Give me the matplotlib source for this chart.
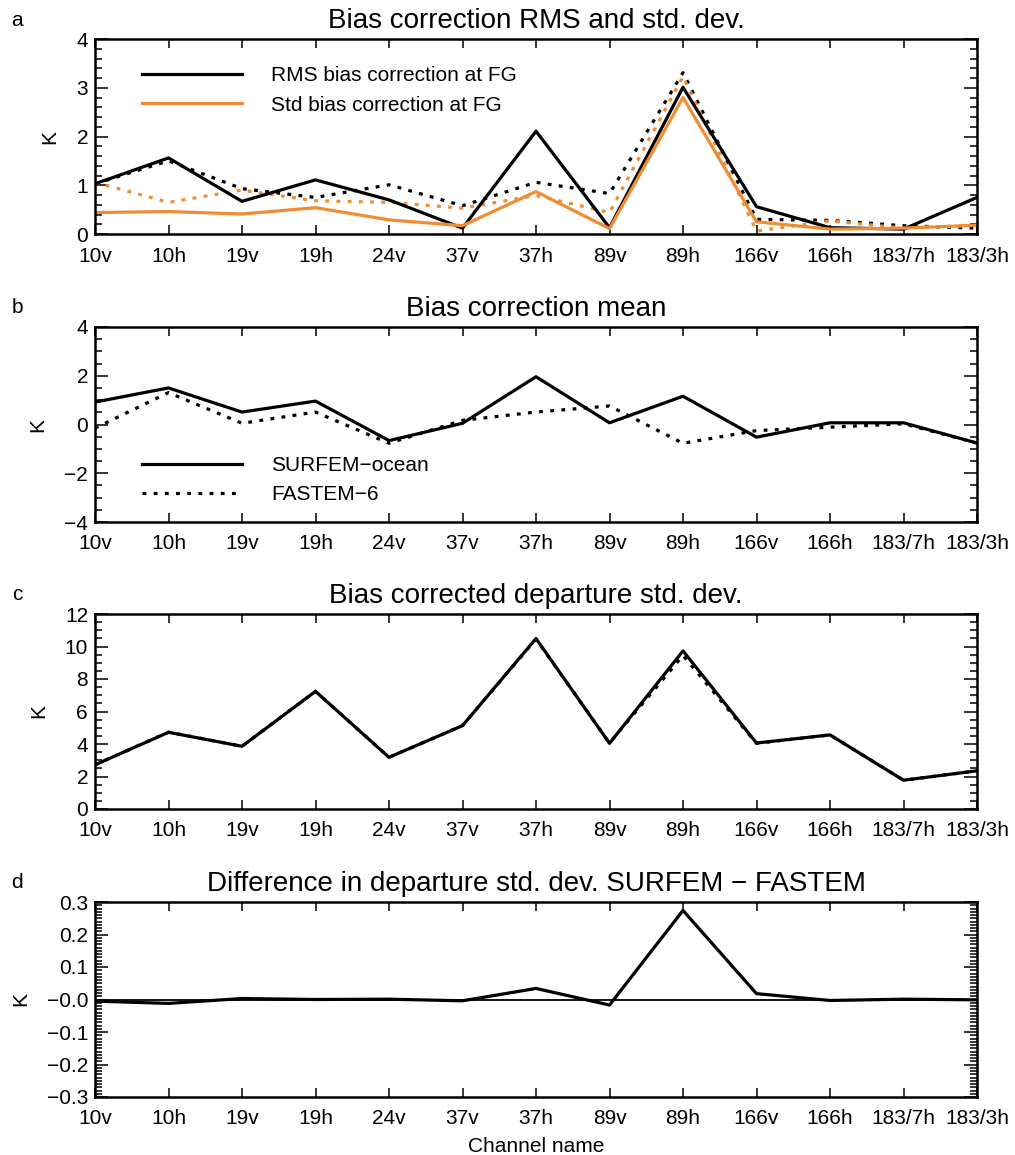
import numpy as np
import matplotlib
matplotlib.use('Agg')
import matplotlib.pyplot as plt
from matplotlib.ticker import MultipleLocator, FixedLocator, FixedFormatter

plt.rcParams['font.family'] = ['Liberation Sans', 'DejaVu Sans']
plt.rcParams['axes.unicode_minus'] = True

channels = ['10v', '10h', '19v', '19h', '24v', '37v', '37h', '89v', '89h',
            '166v', '166h', '183/7h', '183/3h']

# a) RMS / std of bias correction at first guess
rms_surfem = [1.03, 1.56, 0.67, 1.11, 0.70, 0.12, 2.11, 0.13, 3.01, 0.56, 0.13, 0.10, 0.75]
rms_fastem = [1.03, 1.50, 0.93, 0.75, 1.01, 0.58, 1.06, 0.83, 3.31, 0.30, 0.28, 0.17, 0.12]
std_surfem = [0.44, 0.46, 0.41, 0.54, 0.29, 0.17, 0.87, 0.11, 2.80, 0.25, 0.10, 0.12, 0.18]
std_fastem = [1.06, 0.65, 0.90, 0.68, 0.65, 0.53, 0.79, 0.44, 3.23, 0.06, 0.27, 0.12, 0.18]

# b) mean bias correction
mean_surfem = [0.92, 1.50, 0.51, 0.96, -0.66, 0.05, 1.96, 0.07, 1.16, -0.52, 0.07, 0.07, -0.76]
mean_fastem = [-0.15, 1.31, 0.05, 0.51, -0.77, 0.17, 0.51, 0.76, -0.77, -0.25, -0.11, 0.03, -0.76]

# c) bias corrected departure std. dev.
sd_surfem = [2.72, 4.72, 3.86, 7.24, 3.18, 5.13, 10.49, 4.04, 9.73, 4.06, 4.56, 1.77, 2.35]
sd_fastem = [2.72, 4.73, 3.86, 7.24, 3.18, 5.13, 10.46, 4.06, 9.45, 4.04, 4.56, 1.77, 2.35]

# d) SURFEM - FASTEM difference
sd_diff = [-0.005, -0.012, 0.003, 0.0, 0.001, -0.004, 0.034, -0.017, 0.274, 0.018, -0.003, 0.001, -0.001]

d_ticks = [-0.3, -0.2, -0.1, 0.0, 0.1, 0.2, 0.3]
d_ticklabels = ['\u22120.3', '\u22120.2', '\u22120.1', '\u22120.0', '0.1', '0.2', '0.3']

ORANGE = '#F08C32'
LW = 2.3
DOT = (0, (1.2, 2.3))
FS = 15

W, H = 1015, 1155
fig = plt.figure(figsize=(W / 100, H / 100), dpi=100)

left, right = 95, 977
tops = [39, 327, 614, 902]
height = 195
x = np.arange(len(channels))

axes = []
for t in tops:
    ax = fig.add_axes([left / W, 1 - (t + height) / H, (right - left) / W, height / H])
    axes.append(ax)


def style(ax, letter, top, title, ylim, major, minor):
    ax.set_xlim(0, len(channels) - 1)
    ax.set_ylim(*ylim)
    ax.set_xticks(x)
    ax.set_xticklabels(channels)
    ax.yaxis.set_major_locator(MultipleLocator(major))
    ax.yaxis.set_minor_locator(MultipleLocator(minor))
    ax.tick_params(axis='both', which='both', direction='in', top=True, right=True,
                   labelsize=FS, width=1.1)
    ax.tick_params(axis='x', which='major', length=6.5, pad=9)
    ax.tick_params(axis='y', which='major', length=9.5, pad=5)
    ax.tick_params(axis='y', which='minor', length=5)
    ax.tick_params(axis='x', which='minor', length=0)
    for s in ax.spines.values():
        s.set_linewidth(1.8)
    ax.set_title(title, fontsize=20, pad=8)
    ax.set_ylabel('K', fontsize=FS, labelpad=12)
    fig.text(17 / W, 1 - (top - 19) / H, letter, fontsize=FS, ha='center', va='center')


# a
ax = axes[0]
ax.plot(x, rms_fastem, color='black', lw=LW, ls=DOT)
ax.plot(x, std_fastem, color=ORANGE, lw=LW, ls=DOT)
ax.plot(x, rms_surfem, color='black', lw=LW, label='RMS bias correction at FG')
ax.plot(x, std_surfem, color=ORANGE, lw=LW, label='Std bias correction at FG')
style(ax, 'a', tops[0], 'Bias correction RMS and std. dev.', (0, 4), 1, 0.2)
ax.legend(loc='upper left', bbox_to_anchor=(47 / 882, 0.86), frameon=False, fontsize=FS,
          borderaxespad=0, borderpad=0, handlelength=4.8, handletextpad=1.4,
          labelspacing=0.5)

# b
ax = axes[1]
ax.plot(x, mean_surfem, color='black', lw=LW, label='SURFEM\u2212ocean')
ax.plot(x, mean_fastem, color='black', lw=LW, ls=DOT, label='FASTEM\u22126')
style(ax, 'b', tops[1], 'Bias correction mean', (-4, 4), 2, 0.5)
ax.legend(loc='lower left', bbox_to_anchor=(47 / 882, 0.09), frameon=False, fontsize=FS,
          borderaxespad=0, borderpad=0, handlelength=4.8, handletextpad=1.4,
          labelspacing=0.5)

# c
ax = axes[2]
ax.plot(x, sd_fastem, color='black', lw=LW, ls=DOT)
ax.plot(x, sd_surfem, color='black', lw=LW)
style(ax, 'c', tops[2], 'Bias corrected departure std. dev.', (0, 12), 2, 0.5)

# d
ax = axes[3]
ax.axhline(0, color='black', lw=1.3)
ax.plot(x, sd_diff, color='black', lw=LW)
style(ax, 'd', tops[3], 'Difference in departure std. dev. SURFEM \u2212 FASTEM',
      (-0.3, 0.3), 0.1, 0.01)
ax.yaxis.set_major_locator(FixedLocator(d_ticks))
ax.yaxis.set_major_formatter(FixedFormatter(d_ticklabels))
ax.set_xlabel('Channel name', fontsize=FS, labelpad=6)

fig.savefig('out.png', dpi=100)
